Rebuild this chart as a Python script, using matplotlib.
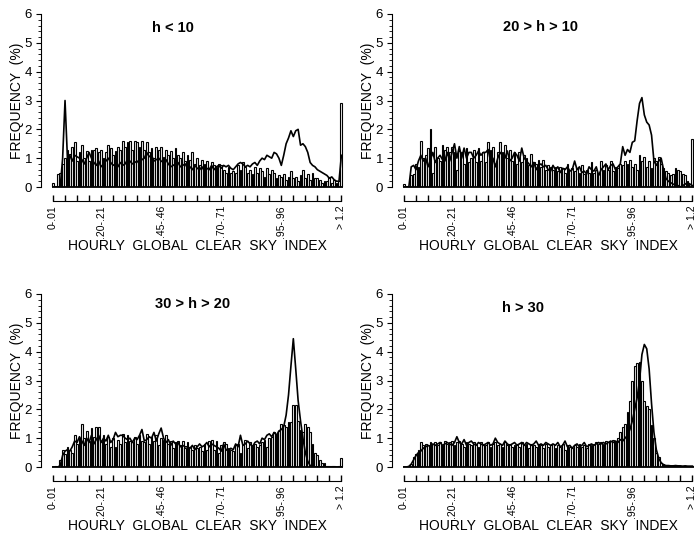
import numpy as np
import matplotlib
matplotlib.use("Agg")
import matplotlib.pyplot as plt
from matplotlib.ticker import MultipleLocator

plt.rcParams['font.family'] = ['Liberation Sans', 'DejaVu Sans']

titles = ["h < 10", "20 > h > 10", "30 > h > 20", "h > 30"]
tick_bins = [0, 20, 45, 70, 95, 120]
tick_labels = ["0-.01", ".20-.21", ".45-.46", ".70-.71", ".95-.96", "> 1.2"]

# frequency (%) per clear sky index bin: 0-.01 ... 1.19-1.20, > 1.2
bars_h10 = [0.15, 0.05, 0.45, 0.5, 0.8, 1.0, 1.3, 1.15, 1.4, 1.55,
            0.9, 1.2, 1.45, 1.0, 1.25, 0.9, 1.3, 1.3, 1.35, 1.2,
            1.3, 1.0, 1.2, 1.45, 1.35, 1.1, 1.25, 1.4, 1.3, 1.6,
            1.4, 1.55, 1.6, 1.3, 1.6, 1.55, 1.4, 1.6, 1.3, 1.55,
            1.2, 1.35, 1.0, 1.4, 1.3, 1.4, 1.05, 1.3, 1.1, 1.25,
            1.0, 1.35, 1.1, 1.0, 1.2, 0.9, 1.1, 0.95, 1.2, 0.8,
            1.0, 0.75, 0.95, 0.8, 0.9, 0.65, 0.85, 0.75, 0.7, 0.8,
            0.75, 0.6, 0.5, 0.7, 0.5, 0.55, 0.5, 0.75, 0.6, 0.85,
            0.7, 0.5, 0.6, 0.45, 0.7, 0.5, 0.65, 0.55, 0.35, 0.65,
            0.45, 0.6, 0.5, 0.3, 0.4, 0.35, 0.45, 0.25, 0.35, 0.55,
            0.3, 0.35, 0.2, 0.4, 0.6, 0.3, 0.45, 0.25, 0.5, 0.3,
            0.3, 0.25, 0.15, 0.2, 0.2, 0.35, 0.15, 0.25, 0.15, 0.2,
            2.9]
line_h10 = [0, 0, 0, 0, 1.0, 3.0, 1.0, 1.1, 0.9, 1.1,
            1.05, 1.0, 0.95, 0.8, 1.0, 1.2, 1.0, 0.85, 0.75, 0.9,
            0.7, 0.8, 0.9, 1.0, 0.85, 0.75, 0.8, 0.7, 0.85, 0.75,
            0.8, 0.95, 0.9, 0.8, 0.85, 0.9, 0.8, 0.95, 1.0, 1.2,
            1.05, 1.1, 0.9, 0.95, 1.0, 0.9, 0.85, 0.95, 0.8, 0.7,
            0.75, 0.8, 0.85, 0.7, 0.75, 0.8, 0.65, 0.7, 0.6, 0.75,
            0.65, 0.6, 0.7, 0.55, 0.65, 0.6, 0.75, 0.6, 0.7, 0.75,
            0.65, 0.75, 0.7, 0.75, 0.65, 0.6, 0.7, 0.8, 0.85, 0.8,
            0.7, 0.75, 0.7, 0.8, 0.85, 0.75, 0.9, 1.0, 0.95, 1.1,
            1.05, 1.0, 1.2, 1.15, 1.0, 0.75, 1.1, 1.5, 1.7, 1.95,
            1.75, 1.95, 2.0, 1.45, 1.5, 1.4, 1.2, 0.85, 0.75, 0.7,
            0.6, 0.55, 0.5, 0.45, 0.4, 0.3, 0.35, 0.25, 0.2, 0.2,
            1.1]

bars_h10_20 = [0.1, 0.05, 0.05, 0.4, 0.45, 0.8, 0.7, 1.6, 1.0, 1.1,
               1.35, 2.0, 0.5, 1.4, 1.0, 0.9, 1.45, 1.3, 1.4, 1.2,
               1.4, 1.2, 0.6, 1.25, 1.2, 0.8, 1.35, 0.85, 1.0, 1.3,
               0.85, 1.35, 0.9, 1.2, 0.85, 1.55, 1.3, 1.4, 0.8, 1.2,
               1.55, 1.2, 1.45, 1.0, 1.3, 0.9, 1.2, 0.8, 1.2, 0.85,
               1.1, 1.0, 0.75, 1.15, 0.85, 0.8, 0.95, 0.7, 0.95, 0.6,
               0.75, 0.7, 0.6, 0.7, 0.55, 0.7, 0.65, 0.5, 0.8, 0.6,
               0.65, 0.55, 0.65, 0.5, 0.75, 0.45, 0.6, 0.5, 0.85, 0.5,
               0.6, 0.45, 0.9, 0.6, 0.75, 0.6, 0.9, 0.55, 0.7, 0.65,
               0.8, 0.75, 0.9, 0.8, 0.95, 0.7, 0.8, 0.6, 1.1, 0.9,
               1.05, 0.7, 0.9, 0.65, 1.0, 0.9, 1.05, 0.8, 0.65, 0.55,
               0.5, 0.4, 0.45, 0.65, 0.6, 0.55, 0.45, 0.4, 0.2, 0.1,
               1.65]
line_h10_20 = [0, 0, 0, 0.7, 0.75, 0.6, 0.9, 1.1, 0.9, 1.0,
               0.7, 0.95, 1.2, 0.85, 1.0, 1.1, 0.95, 0.9, 1.2, 0.9,
               1.2, 1.5, 1.0, 1.4, 1.0, 1.35, 1.0, 1.2, 1.2, 1.0,
               1.1, 1.25, 1.1, 1.2, 1.2, 1.3, 0.9, 1.0, 0.7, 1.0,
               1.2, 1.1, 1.0, 1.25, 0.9, 1.0, 1.2, 1.1, 0.9, 1.35,
               1.0, 0.9, 0.8, 0.7, 0.85, 0.6, 0.75, 0.8, 0.7, 0.75,
               0.6, 0.55, 0.75, 0.6, 0.7, 0.5, 0.65, 0.6, 0.7, 0.55,
               0.6, 0.9, 0.6, 0.7, 0.5, 0.55, 0.45, 0.7, 0.6, 0.55,
               0.7, 0.4, 0.6, 0.7, 0.8, 0.6, 0.75, 0.8, 0.6, 0.7,
               0.8, 1.4, 1.1, 1.3, 1.2, 1.55, 1.6, 2.3, 2.9, 3.1,
               2.5, 2.25, 2.15, 1.8, 0.9, 0.75, 0.9, 1.0, 0.6, 0.3,
               0.2, 0.15, 0.1, 0.05, 0.05, 0.0, 0.05, 0.1, 0.15, 0.1,
               0.05]

bars_h20_30 = [0.0, 0.05, 0.0, 0.25, 0.6, 0.45, 0.7, 0.6, 0.5, 1.1,
               0.8, 1.0, 1.5, 1.0, 1.25, 0.9, 1.35, 1.05, 1.4, 1.4,
               0.9, 1.1, 0.8, 1.05, 0.7, 1.0, 0.7, 0.95, 0.8, 1.15,
               0.85, 1.1, 0.9, 0.85, 1.05, 0.8, 1.1, 0.9, 0.85, 1.15,
               0.8, 1.05, 0.9, 1.1, 0.75, 1.0, 0.95, 1.1, 0.8, 0.9,
               0.65, 0.85, 0.9, 0.75, 0.9, 0.65, 0.85, 0.7, 0.6, 0.75,
               0.65, 0.7, 0.55, 0.8, 0.6, 0.9, 0.95, 0.6, 0.9, 0.5,
               0.75, 0.85, 0.8, 0.65, 0.6, 0.55, 0.75, 0.8, 0.5, 0.75,
               0.95, 0.65, 0.85, 0.75, 0.8, 0.7, 0.75, 0.85, 0.95, 0.7,
               1.0, 1.05, 1.2, 1.15, 1.25, 1.5, 1.45, 1.4, 1.55, 1.55,
               2.15, 2.15, 1.6, 1.3, 1.2, 1.5, 1.4, 1.2, 0.8, 0.5,
               0.4, 0.25, 0.15, 0.15, 0.05, 0.05, 0.05, 0.05, 0.0, 0.05,
               0.3]
line_h20_30 = [0, 0, 0, 0.05, 0.4, 0.55, 0.6, 0.55, 0.7, 0.9,
               0.85, 1.05, 0.9, 0.75, 1.0, 0.85, 1.1, 0.8, 0.95, 1.1,
               0.85, 1.0, 0.9, 1.1, 0.85, 0.95, 1.2, 1.05, 1.1, 1.1,
               1.0, 0.95, 1.0, 0.85, 1.0, 0.95, 1.1, 1.3, 0.9, 0.95,
               1.05, 1.0, 1.2, 0.9, 1.15, 1.35, 1.0, 0.85, 0.95, 0.75,
               0.9, 0.8, 0.85, 0.7, 0.75, 0.7, 0.7, 0.65, 0.75, 0.6,
               0.7, 0.8, 0.7, 0.75, 0.85, 0.7, 0.8, 0.75, 0.7, 0.65,
               0.55, 0.8, 0.6, 0.55, 0.65, 0.6, 0.8, 0.7, 1.1, 0.75,
               0.8, 0.9, 0.8, 0.7, 0.85, 0.9, 0.8, 1.0, 0.95, 1.1,
               1.15, 1.05, 1.2, 1.1, 1.25, 1.3, 1.4, 1.8, 2.5, 3.5,
               4.45, 3.4, 2.3, 1.6, 1.0, 0.5, 0.2, 0.05, 0.0, 0.0,
               0.0, 0.0, 0.0, 0.0, 0.0, 0.0, 0.0, 0.0, 0.0, 0.0,
               0.0]

bars_h30 = [0.0, 0.0, 0.05, 0.1, 0.35, 0.45, 0.6, 0.85, 0.75, 0.8,
            0.75, 0.85, 0.8, 0.85, 0.75, 0.85, 0.75, 0.9, 0.8, 0.85,
            0.9, 0.75, 0.85, 0.9, 0.8, 0.7, 0.85, 0.8, 0.75, 0.85,
            0.8, 0.7, 0.85, 0.8, 0.75, 0.85, 0.7, 0.8, 0.85, 0.75,
            0.8, 0.7, 0.85, 0.75, 0.8, 0.7, 0.75, 0.8, 0.7, 0.85,
            0.75, 0.8, 0.65, 0.8, 0.75, 0.7, 0.8, 0.75, 0.65, 0.8,
            0.7, 0.75, 0.8, 0.65, 0.75, 0.7, 0.8, 0.6, 0.75, 0.7,
            0.65, 0.75, 0.7, 0.8, 0.7, 0.75, 0.65, 0.8, 0.75, 0.8,
            0.85, 0.8, 0.85, 0.8, 0.9, 0.85, 0.9, 0.95, 0.9, 1.0,
            1.2, 1.4, 1.5, 1.9, 2.3, 3.0, 3.5, 3.6, 3.65, 3.0,
            2.3, 2.1, 2.0, 1.45, 1.0, 0.5, 0.35, 0.15, 0.1, 0.05,
            0.05, 0.03, 0.03, 0.05, 0.03, 0.03, 0.05, 0.03, 0.03, 0.02,
            0.03]
line_h30 = [0.0, 0.0, 0.02, 0.1, 0.25, 0.4, 0.5, 0.55, 0.65, 0.7,
            0.75, 0.7, 0.8, 0.75, 0.8, 0.85, 0.75, 0.8, 0.85, 0.8,
            0.75, 0.85, 1.05, 0.85, 0.8, 0.95, 0.75, 0.85, 0.9, 0.8,
            0.75, 0.85, 0.8, 0.75, 0.8, 0.85, 0.75, 0.8, 1.0, 0.85,
            0.8, 0.75, 0.9, 0.8, 0.75, 0.8, 0.85, 0.75, 0.8, 0.85,
            0.75, 0.85, 0.8, 0.75, 0.8, 0.9, 0.75, 0.8, 0.75, 0.85,
            0.8, 0.75, 0.8, 0.75, 0.85, 0.7, 0.75, 0.9, 0.7, 0.75,
            0.65, 0.75, 0.8, 0.7, 0.75, 0.85, 0.7, 0.75, 0.8, 0.75,
            0.8, 0.85, 0.8, 0.85, 0.8, 0.85, 0.9, 0.85, 0.9, 0.85,
            0.95, 0.9, 1.0, 1.1, 1.3, 1.6, 2.0, 2.4, 3.0, 3.9,
            4.25, 4.1, 3.4, 2.2, 1.2, 0.6, 0.3, 0.15, 0.08, 0.05,
            0.05, 0.04, 0.04, 0.05, 0.04, 0.04, 0.03, 0.04, 0.03, 0.03,
            0.03]

bars = [bars_h10, bars_h10_20, bars_h20_30, bars_h30]
lines = [line_h10, line_h10_20, line_h20_30, line_h30]

W, H = 694, 538
fig = plt.figure(figsize=(W / 100, H / 100), dpi=100)

# (left px, y of zero px, title x, title y)
layout = [(41, 187, 0.434, 0.917), (392, 187, 0.49, 0.927),
          (41, 467, 0.50, 0.942), (392, 467, 0.43, 0.917)]

for k in range(4):
    left, y0, tx, ty = layout[k]
    ax = fig.add_axes([left / W, (H - y0) / H, 304 / W, 173 / H])
    x = np.arange(len(bars[k]))

    ax.bar(x, bars[k], width=0.75, color='#f2f2f2', edgecolor='black', lw=0.8)
    ax.plot(x, lines[k], color='black', lw=1.2)
    ax.hlines(0, x[0] - 0.5, x[-1] + 0.5, color='black', lw=1.3, clip_on=False)

    ax.set_xlim(-5, 121.5)
    ax.set_ylim(0, 6)
    ax.spines['top'].set_visible(False)
    ax.spines['right'].set_visible(False)
    ax.spines['bottom'].set_position(('outward', 10))
    ax.spines['bottom'].set_bounds(x[0], x[-1])
    ax.spines['left'].set_bounds(0, 6)

    ticks = list(range(0, len(x), 5))
    labs = [tick_labels[tick_bins.index(t)] if t in tick_bins else "" for t in ticks]
    ax.set_xticks(ticks)
    ax.set_xticklabels(labs, rotation=90)
    ax.tick_params(axis='x', direction='in', length=4, width=1, labelsize=7.5, pad=3)
    ax.set_yticks(range(7))
    ax.yaxis.set_minor_locator(MultipleLocator(0.2))
    ax.tick_params(axis='y', which='major', direction='out', length=3.5, labelsize=9.5, pad=3)
    ax.tick_params(axis='y', which='minor', direction='out', length=2)

    ax.set_ylabel("FREQUENCY  (%)", fontsize=10)
    ax.yaxis.set_label_coords(-0.055, 0.5)
    ax.set_xlabel("HOURLY  GLOBAL  CLEAR  SKY  INDEX", fontsize=10)
    ax.xaxis.set_label_coords(0.516, -0.30)

    ax.text(tx, ty, titles[k], transform=ax.transAxes, ha='center', va='center',
            fontsize=10.5, fontweight='bold')

fig.savefig("out.png", dpi=100)
